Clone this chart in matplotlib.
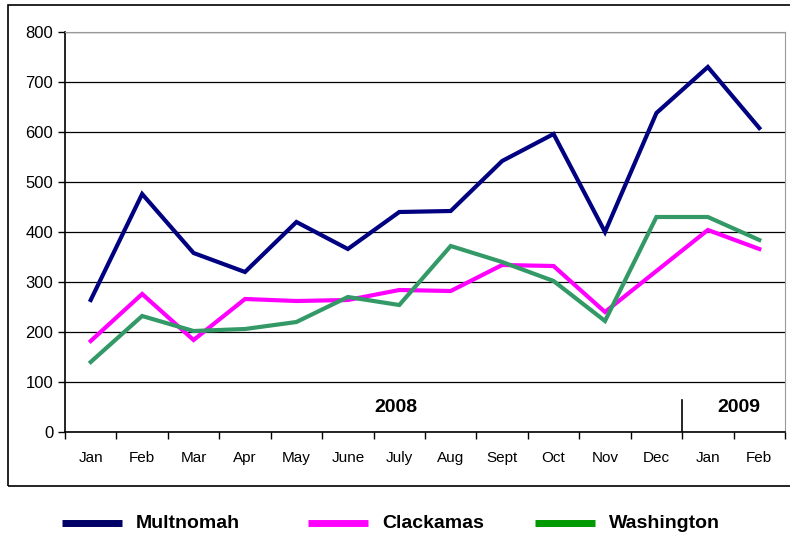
import matplotlib
matplotlib.use("Agg")
import matplotlib.pyplot as plt
from matplotlib.lines import Line2D
from matplotlib.patches import Rectangle
import numpy as np

plt.rcParams['font.family'] = ['Liberation Sans', 'DejaVu Sans']

months = ['Jan', 'Feb', 'Mar', 'Apr', 'May', 'June', 'July', 'Aug', 'Sept',
          'Oct', 'Nov', 'Dec', 'Jan', 'Feb']
multnomah = [264, 476, 358, 320, 420, 366, 440, 442, 542, 596, 400, 638, 730, 608]
clackamas = [182, 276, 184, 266, 262, 264, 284, 282, 334, 332, 240, 322, 404, 366]
washington = [140, 232, 202, 206, 220, 270, 254, 372, 340, 302, 222, 430, 430, 384]
series_names = ['Multnomah', 'Clackamas', 'Washington']
line_colors = ['#000080', '#FF00FF', '#339966']
legend_colors = ['#000066', '#FF00FF', '#009900']

fig = plt.figure(figsize=(7.9, 5.35), dpi=100)
W, H = 790, 535

# outer chart frame
fig.patches.append(Rectangle((8 / W, 1 - 486 / H), 790 / W, (486 - 5) / H,
                             transform=fig.transFigure, fill=False,
                             edgecolor='black', linewidth=1.2))

ax = fig.add_axes([65 / W, 1 - 432 / H, 720 / W, 400 / H])
x = np.arange(len(months))
for vals, c in zip([multnomah, clackamas, washington], line_colors):
    ax.plot(x, vals, color=c, linewidth=3, solid_joinstyle='miter')

ax.set_xlim(-0.5, len(months) - 0.5)
ax.set_ylim(0, 800)
ax.set_yticks(range(0, 801, 100))
ax.yaxis.grid(True, color='black', linewidth=0.9)
ax.set_axisbelow(True)
ax.set_xticks(x)
ax.set_xticklabels(months, fontsize=11)
ax.set_xticks(np.arange(-0.5, len(months), 1), minor=True)
ax.tick_params(axis='x', which='major', length=0, pad=14)
ax.tick_params(axis='x', which='minor', length=5, width=1, direction='out')
ax.tick_params(axis='y', length=5, width=1, labelsize=12, direction='out')
for s in ['top', 'right']:
    ax.spines[s].set_color('#999999')
for s in ['left', 'bottom']:
    ax.spines[s].set_color('black')
    ax.spines[s].set_linewidth(1.2)

# year markers
ax.text(5.94, 48, '2008', ha='center', va='center', fontsize=14, fontweight='bold')
ax.text(12.6, 48, '2009', ha='center', va='center', fontsize=14, fontweight='bold')
ax.plot([11.5, 11.5], [0, 64], color='black', linewidth=1.2)

# legend below the frame
leg_x = [62, 308, 535]
leg_y = 1 - 523 / H
for lx, name, c in zip(leg_x, series_names, legend_colors):
    fig.add_artist(Line2D([lx / W, (lx + 60) / W], [leg_y, leg_y], color=c,
                          linewidth=5, solid_capstyle='butt',
                          transform=fig.transFigure))
    fig.text((lx + 74) / W, leg_y, name, ha='left', va='center',
             fontsize=14, fontweight='bold')

fig.savefig('out.png', dpi=100)
